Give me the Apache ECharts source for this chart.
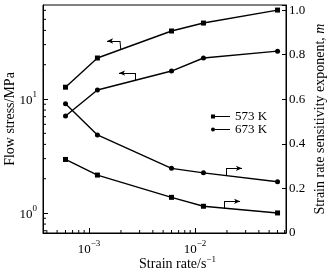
<!DOCTYPE html>
<html><head><meta charset="utf-8">
<script src="https://cdn.jsdelivr.net/npm/echarts@6/dist/echarts.min.js"></script>
<style>html,body{margin:0;padding:0;background:#fff}#c{width:332px;height:275px}</style>
</head><body><div id="c"></div>
<script>
// ---- data ----
const strainRate = [6e-4, 1.2e-3, 6e-3, 1.2e-2, 6e-2];
const stress573 = [12.7, 22.9, 39.5, 46.4, 60.3];
const stress673 = [7.1, 12.0, 17.6, 22.9, 26.3];
const m573 = [0.33, 0.26, 0.16, 0.12, 0.09];
const m673 = [0.58, 0.44, 0.29, 0.27, 0.23];
const legendNames = ['573 K', '673 K'];
// axis extents and tick values
const X_MIN = 3.68e-4, X_MAX = 0.0721;
const Y_MIN = 0.668, Y_MAX = 66.8;
const M_MIN = 0, M_MAX = 1.023;
const xMinorTicks = [4e-4,5e-4,6e-4,7e-4,8e-4,9e-4,2e-3,3e-3,4e-3,5e-3,6e-3,7e-3,8e-3,9e-3,2e-2,3e-2,4e-2,5e-2,6e-2,7e-2];
const yMinorTicks = [0.7,0.8,0.9,2,3,4,5,6,7,8,9,20,30,40,50,60];
// annotation arrows [from, arrow tip, stub end] in data coords
const arrowStress573 = [[1.96e-3, 32.3], [1.48e-3, 32.3], [1.99e-3, 27.4]];
const arrowStress673 = [[2.72e-3, 16.9], [1.92e-3, 16.9], [2.72e-3, 14.6]];
const arrowM673 = [[1.96e-2, 0.290], [2.77e-2, 0.290], [1.96e-2, 0.258]];
const arrowM573 = [[1.88e-2, 0.142], [2.66e-2, 0.142], [1.88e-2, 0.111]];

const FONT = 'Liberation Serif';
const pair = (xs, ys) => xs.map((x, i) => [x, ys[i]]);
function isPow10(v) { const l = Math.log10(v); return Math.abs(l - Math.round(l)) < 1e-6; }
function powLabel(v) {
  if (!isPow10(v)) return '';
  const e = Math.round(Math.log10(v));
  return '{b|10}{s|' + String(e).replace('-', '\u2212') + '}';
}
const supRich = {
  b: {fontFamily: FONT, fontSize: 13, color: '#000', lineHeight: 17, verticalAlign: 'bottom'},
  s: {fontFamily: FONT, fontSize: 9, color: '#000', lineHeight: 17, verticalAlign: 'top'}
};
function arrowMark(a) {
  return {
    silent: true, animation: false,
    label: {show: false},
    lineStyle: {color: '#000', width: 1, type: 'solid'},
    symbol: ['none', 'none'],
    data: [
      [{coord: a[0], symbol: 'none'}, {coord: a[1], symbol: 'arrow', symbolSize: [4, 6]}],
      [{coord: a[0], symbol: 'none'}, {coord: a[2], symbol: 'none'}]
    ]
  };
}
const lineStyle = {color: '#000', width: 1.4};
const chart = echarts.init(document.getElementById('c'), null, {renderer: 'canvas'});
chart.setOption({
  animation: false,
  backgroundColor: '#fff',
  textStyle: {fontFamily: FONT},
  grid: {left: 43, right: 46, top: 5, bottom: 42, containLabel: false, outerBoundsMode: 'none',
    show: true, borderColor: '#000', borderWidth: 1, backgroundColor: 'transparent'},
  legend: {
    orient: 'vertical', left: 206, top: 105, itemGap: 0, itemWidth: 19, itemHeight: 5,
    textStyle: {fontFamily: FONT, fontSize: 13, color: '#000', lineHeight: 13},
    data: [
      {name: legendNames[0], icon: 'path://M0,0h4v4h-4z M4,1.6h15v0.8h-15z'},
      {name: legendNames[1], icon: 'path://M0,2a2,2 0 1,0 4,0a2,2 0 1,0 -4,0z M4,1.6h15v0.8h-15z'}
    ]
  },
  xAxis: {
    type: 'log', min: X_MIN, max: X_MAX,
    name: '{a|Strain rate/s}{s|\u22121}', nameLocation: 'middle', nameGap: 22, nameMoveOverlap: false,
    nameTextStyle: {padding: [0, 0, 0, 26], rich: {a: {fontFamily: FONT, fontSize: 14, color: '#000', lineHeight: 16, verticalAlign:'bottom'}, s: {fontFamily: FONT, fontSize: 9, color: '#000', lineHeight: 16, verticalAlign: 'top'}}},
    axisLine: {lineStyle: {color: '#000'}},
    axisTick: {inside: true, length: 5, lineStyle: {color: '#000'}},
    splitLine: {show: false},
    axisLabel: {formatter: powLabel, rich: supRich, margin: 6, showMinLabel: false, showMaxLabel: false}
  },
  yAxis: [{
    type: 'log', min: Y_MIN, max: Y_MAX, position: 'left',
    name: 'Flow stress/MPa', nameLocation: 'middle', nameGap: 26, nameMoveOverlap: false,
    nameTextStyle: {fontFamily: FONT, fontSize: 14, color: '#000'},
    axisLine: {lineStyle: {color: '#000'}},
    axisTick: {inside: true, length: 5, lineStyle: {color: '#000'}},
    splitLine: {show: false},
    axisLabel: {formatter: powLabel, rich: supRich, margin: 6, showMinLabel: false, showMaxLabel: false}
  }, {
    type: 'value', min: M_MIN, max: M_MAX, interval: 0.2, position: 'right',
    name: '{a|Strain rate sensitivity exponent, }{i|m}', nameLocation: 'middle', nameGap: 27, nameMoveOverlap: false,
    nameTextStyle: {rich: {a: {fontFamily: FONT, fontSize: 14, color: '#000'}, i: {fontFamily: FONT, fontSize: 14, fontStyle: 'italic', color: '#000'}}},
    axisLine: {show: true, lineStyle: {color: '#000'}},
    axisTick: {inside: true, length: 4, lineStyle: {color: '#000'}},
    splitLine: {show: false},
    axisLabel: {fontFamily: FONT, fontSize: 13, color: '#000', margin: 3,
      formatter: v => (v > 1.0001 ? '' : (v === 0 ? '0' : v.toFixed(1)))}
  }],
  series: [
    {name: legendNames[0], type: 'line', yAxisIndex: 0, data: pair(strainRate, stress573), symbol: 'rect', symbolSize: 5,
      itemStyle: {color: '#000'}, lineStyle, markLine: arrowMark(arrowStress573)},
    {name: legendNames[1], type: 'line', yAxisIndex: 0, data: pair(strainRate, stress673), symbol: 'circle', symbolSize: 5,
      itemStyle: {color: '#000'}, lineStyle, markLine: arrowMark(arrowStress673)},
    {name: legendNames[0], type: 'line', yAxisIndex: 1, data: pair(strainRate, m573), symbol: 'rect', symbolSize: 5,
      itemStyle: {color: '#000'}, lineStyle, markLine: arrowMark(arrowM573)},
    {name: legendNames[1], type: 'line', yAxisIndex: 1, data: pair(strainRate, m673), symbol: 'circle', symbolSize: 5,
      itemStyle: {color: '#000'}, lineStyle, markLine: arrowMark(arrowM673)},
    {type: 'custom', yAxisIndex: 0, silent: true, clip: false,
      data: xMinorTicks.map(v => [v, Y_MIN]),
      renderItem: (p, api) => { const c = api.coord([api.value(0), api.value(1)]);
        return {type: 'line', shape: {x1: c[0], y1: c[1], x2: c[0], y2: c[1] - 3}, style: {stroke: '#000', lineWidth: 1}}; }},
    {type: 'custom', yAxisIndex: 0, silent: true, clip: false,
      data: yMinorTicks.map(v => [X_MIN, v]),
      renderItem: (p, api) => { const c = api.coord([api.value(0), api.value(1)]);
        return {type: 'line', shape: {x1: c[0], y1: c[1], x2: c[0] + 3, y2: c[1]}, style: {stroke: '#000', lineWidth: 1}}; }}
  ]
});
</script></body></html>
